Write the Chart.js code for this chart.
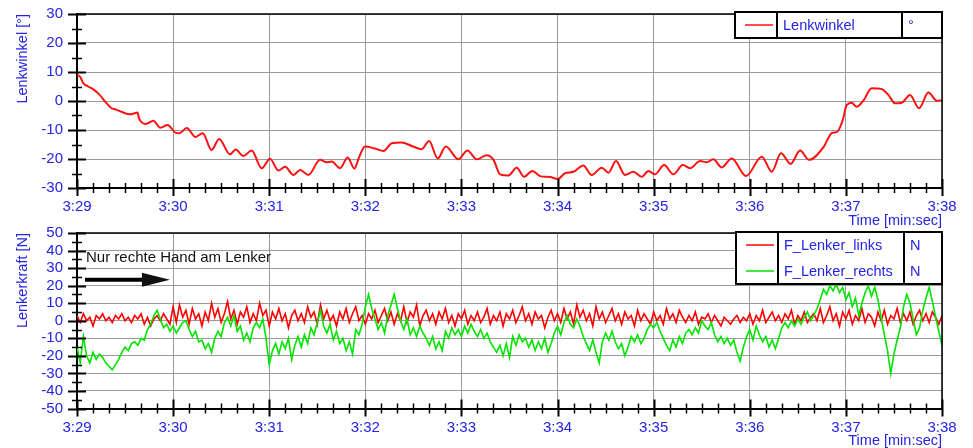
<!DOCTYPE html>
<html>
<head>
<meta charset="utf-8">
<script src="https://cdn.jsdelivr.net/npm/chart.js@4.4.1/dist/chart.umd.min.js"></script>
<style>
  html, body { margin: 0; padding: 0; background: #fff; }
  #wrap { position: relative; width: 973px; height: 448px; overflow: hidden; }
  #wrap canvas { position: absolute; left: 0; }
  #angleChart { top: 0; }
  #forceChart { top: 210px; }
</style>
</head>
<body>
<div id="wrap">
  <canvas id="angleChart" width="973" height="228"></canvas>
  <canvas id="forceChart" width="973" height="238"></canvas>
</div>
<script>
// time axis: seconds after 3:29
const minuteLabels = ['3:29','3:30','3:31','3:32','3:33','3:34','3:35','3:36','3:37','3:38'];

// Lenkwinkel [°]
const angleTime = [0,2,4,7,10,14,18,21.6,24,28,33,36,37.8,38.8,43,47.7,52,56.5,61.8,64,68.5,74,78.5,84,88.7,95.5,99.1,103.8,109,115.3,120.5,125.7,129.9,135.1,139.3,144.5,151.7,155.9,159,164.2,169,173.2,176,179.8,186.1,191.3,196.5,202.7,209,215.2,219.8,225.2,230.2,238.1,243.7,249.6,255.8,260,264.1,269.3,274.5,279.1,284.3,289.1,295.3,300.1,304.7,309.9,316.1,321.3,327.6,331.7,336.5,342.1,347.3,352.5,356.7,360.8,366.5,372.3,378.2,382.7,389,393.1,397.3,402.5,408.7,417.7,427.5,433.7,439.5,445.5,451.4,457,465.9,471.2,474.7,478,480.5,483.6,486.8,490.9,496.1,502.4,506.5,510.7,514.9,520,525.7,531.5,536.8,540];
const angleValue = [9.0,8.3,6.1,5.0,4.1,2.2,-0.5,-2.5,-2.9,-3.8,-4.6,-4.2,-4.0,-6.1,-7.9,-6.8,-9.2,-8.3,-11.0,-11.1,-9.3,-12.4,-11.1,-16.9,-13.1,-18.4,-16.7,-19.0,-17.1,-23.2,-19.9,-24.0,-22.7,-25.5,-23.8,-25.5,-20.3,-21.1,-20.9,-23.2,-19.5,-23.3,-19.5,-15.7,-16.4,-17.2,-14.6,-14.3,-15.5,-16.6,-13.8,-19.8,-15.7,-20.1,-17.1,-20.1,-18.7,-20.3,-25.3,-25.7,-23.0,-26.1,-24.1,-25.9,-26.2,-26.9,-24.9,-24.4,-22.2,-25.5,-23.0,-24.7,-20.7,-25.5,-24.4,-26.1,-24.1,-25.3,-22.1,-25.3,-22.1,-23.2,-20.7,-21.1,-20.1,-22.9,-19.8,-25.9,-19.2,-24.4,-18.0,-21.7,-17.1,-20.3,-16.0,-11.1,-10.6,-6.6,-1.4,-0.6,-2.0,0.1,4.4,4.1,2.1,-0.8,-0.6,2.1,-2.5,2.9,0.1,0.3];

// Lenkerkraft [N], one reading every 2 s from 3:29 on
const forceStep = 2;
const linksValue = [
  3,-1,4,0,2,-3,3,1,4,0,
  2,-1,3,1,4,0,2,-1,3,1,
  4,-2,2,-3,1,3,0,4,1,-2,
  8,-1,9,2,6,-2,7,1,4,-3,
  5,0,10,2,7,-1,4,11,1,6,
  -2,5,2,8,-1,4,0,10,3,6,
  -3,5,1,7,0,4,-4,3,6,0,
  4,-1,8,2,5,-2,9,1,6,0,
  3,-3,5,1,7,-1,4,8,0,3,
  -2,4,1,6,-1,3,7,0,5,-2,
  4,0,8,-1,5,2,9,-3,3,6,
  0,4,-2,5,1,7,-1,3,-3,4,
  1,6,-2,3,0,5,-1,2,7,-2,
  3,0,5,-3,4,1,6,-1,3,8,
  0,4,-2,5,1,3,-4,2,6,0,
  4,-1,7,1,5,-2,9,2,6,0,
  4,-3,8,1,5,-1,3,7,0,4,
  -2,5,1,3,-3,6,0,4,1,-2,
  5,0,3,-2,7,1,4,-1,6,2,
  -1,3,0,5,-2,2,1,4,-1,3,
  0,-3,2,0,-2,1,3,-1,2,0,
  4,-2,3,0,6,-1,2,5,0,3,
  -1,4,1,6,-2,3,0,5,-1,2,
  4,0,7,-1,3,8,0,4,-3,5,
  1,6,-2,3,0,7,-1,4,2,-3,
  5,0,6,-2,3,1,7,-1,4,0,
  5,-2,3,6,0,4,-1,5,2,-2,
  3];
const rechtsValue = [
  -15,-24,-9,-20,-24,-18,-22,-19,-21,-24,
  -26,-28,-25,-22,-18,-15,-17,-13,-12,-14,
  -10,-11,-5,-2,3,6,1,-4,-2,-6,
  -3,-7,-4,-1,0,-5,-9,-6,-12,-11,
  -16,-13,-18,-10,-6,-9,-1,2,-3,3,
  -6,-3,-11,-7,-12,-4,-1,-4,1,-10,
  -25,-17,-13,-19,-12,-16,-10,-22,-14,-9,
  -15,-8,-13,-4,-8,-1,6,-3,-7,-2,
  -11,-6,-13,-10,-17,-12,-19,-5,-8,-2,
  8,15,7,1,-5,-1,-7,3,9,15,
  7,0,-5,1,-8,-4,-9,-3,-7,-10,
  -14,-9,-16,-12,-17,-6,-10,-4,-8,-5,
  -9,-3,-7,-2,-6,-9,-5,-10,-7,-12,
  -15,-18,-14,-20,-13,-21,-9,-14,-8,-12,
  -10,-15,-11,-17,-12,-16,-10,-18,-13,-7,
  -3,-8,-1,3,-2,-4,1,-3,-9,-13,
  -17,-11,-18,-24,-12,-7,-11,-6,-12,-16,
  -13,-20,-15,-9,-12,-8,-13,-10,-5,-2,
  -4,-1,-6,-10,-14,-17,-11,-15,-9,-13,
  -7,-5,-8,-4,-7,0,-3,-5,-1,-8,
  -12,-9,-13,-10,-14,-11,-18,-23,-15,-9,
  -5,-11,-3,-8,-12,-9,-15,-11,-16,-10,
  -4,-1,-4,0,-3,1,-2,2,5,0,
  3,7,12,18,15,20,17,21,16,19,
  12,16,8,13,3,10,16,20,14,19,
  12,2,-8,-17,-30,-19,-11,-4,8,15,
  10,1,-8,-4,6,13,19,11,2,-6,
  -14];

const BLUE = '#2424e6';
const FONT = "'Liberation Sans', Arial, sans-serif";
const GRID = '#9a9a9a';

// axis frame, crossing tick marks, table legend and note
const decor = {
  id: 'decor',
  afterDraw(chart, args, o) {
    const { ctx, chartArea: a, scales: { x, y } } = chart;
    ctx.save();
    ctx.strokeStyle = '#000';
    ctx.lineWidth = 1.5;
    ctx.beginPath();
    ctx.moveTo(a.left, a.top); ctx.lineTo(a.right, a.top); ctx.lineTo(a.right, a.bottom);
    ctx.stroke();
    // x ticks every 10 s, big ones on the minute
    for (let t = x.min; t <= x.max; t += 10) {
      const px = Math.round(x.getPixelForValue(t)) + 0.5;
      const big = t % 60 === 0;
      ctx.lineWidth = big ? 2 : 1.5;
      ctx.beginPath();
      ctx.moveTo(px, a.bottom - (big ? 9 : 5));
      ctx.lineTo(px, a.bottom + (big ? 8 : 5));
      ctx.stroke();
    }
    for (let v = y.min; v <= y.max; v += o.minorY) {
      const py = Math.round(y.getPixelForValue(v)) + 0.5;
      const big = v % (o.minorY * 2) === 0;
      ctx.lineWidth = big ? 2 : 1.5;
      ctx.beginPath();
      ctx.moveTo(a.left - (big ? 9 : 5), py);
      ctx.lineTo(a.left + (big ? 9 : 5), py);
      ctx.stroke();
    }
    // note with arrow
    if (o.note) {
      const n = o.note;
      ctx.fillStyle = '#111';
      ctx.font = '15px ' + FONT;
      ctx.textAlign = 'left';
      ctx.textBaseline = 'middle';
      ctx.fillText(n.text, x.getPixelForValue(n.textX), y.getPixelForValue(n.textY));
      const ay = y.getPixelForValue(n.arrowY);
      const x0 = x.getPixelForValue(n.from), x1 = x.getPixelForValue(n.to);
      ctx.lineWidth = 4;
      ctx.beginPath(); ctx.moveTo(x0, ay); ctx.lineTo(x1 - 26, ay); ctx.stroke();
      ctx.beginPath();
      ctx.moveTo(x1, ay); ctx.lineTo(x1 - 28, ay - 7); ctx.lineTo(x1 - 28, ay + 7); ctx.closePath();
      ctx.fill();
    }
    // legend table
    const L = o.legend;
    const rowH = 26, w = L.cols[0] + L.cols[1] + L.cols[2];
    const lx = a.right - w, ly = a.top + L.dy, h = rowH * L.names.length;
    ctx.fillStyle = '#fff';
    ctx.fillRect(lx, ly, w, h);
    ctx.strokeStyle = '#000';
    ctx.lineWidth = 2;
    ctx.strokeRect(lx, ly, w, h);
    ctx.beginPath();
    ctx.moveTo(lx + L.cols[0], ly); ctx.lineTo(lx + L.cols[0], ly + h);
    ctx.moveTo(lx + L.cols[0] + L.cols[1], ly); ctx.lineTo(lx + L.cols[0] + L.cols[1], ly + h);
    ctx.stroke();
    ctx.font = '14.5px ' + FONT;
    ctx.textBaseline = 'middle';
    ctx.textAlign = 'left';
    L.names.forEach((name, i) => {
      const cy = ly + rowH * i + rowH / 2;
      ctx.strokeStyle = L.colors[i];
      ctx.lineWidth = 1.5;
      ctx.beginPath(); ctx.moveTo(lx + 10, cy); ctx.lineTo(lx + 38, cy); ctx.stroke();
      ctx.fillStyle = BLUE;
      ctx.fillText(name, lx + L.cols[0] + 6, cy + 0.5);
      ctx.fillText(L.units[i], lx + L.cols[0] + L.cols[1] + 6, cy + 0.5);
    });
    ctx.restore();
  }
};

function xScale(height) {
  return {
    type: 'linear', min: 0, max: 540,
    afterFit: s => { s.height = height; s.paddingLeft = 0; s.paddingRight = 0; },
    ticks: {
      stepSize: 60, autoSkip: false, maxRotation: 0, padding: 10,
      color: BLUE, font: { family: FONT, size: 15 },
      callback: v => minuteLabels[v / 60]
    },
    grid: { color: GRID, lineWidth: 1, drawTicks: false },
    border: { color: '#000', width: 2 },
    title: {
      display: true, text: 'Time [min:sec]', align: 'end', color: BLUE,
      font: { family: FONT, size: 14.5, lineHeight: 1 }, padding: 0
    }
  };
}

function yScale(min, max, title) {
  return {
    min: min, max: max,
    afterFit: s => { s.width = 77; s.paddingTop = 0; s.paddingBottom = 0; },
    ticks: { stepSize: 10, autoSkip: false, padding: 14, color: BLUE, font: { family: FONT, size: 15 } },
    grid: { color: GRID, lineWidth: 1, drawTicks: false },
    border: { color: '#000', width: 2 },
    title: {
      display: true, text: title, align: 'end', color: BLUE,
      font: { family: FONT, size: 14.5 }, padding: { top: 14, bottom: 0 }
    }
  };
}

const common = {
  responsive: false,
  animation: false,
  events: [],
  plugins: { legend: { display: false }, tooltip: { enabled: false } },
  elements: { point: { radius: 0 } }
};

new Chart(document.getElementById('angleChart'), {
  type: 'line',
  data: {
    datasets: [{
      data: angleTime.map((t, i) => ({ x: t, y: angleValue[i] })),
      borderColor: '#ff1010', borderWidth: 2, cubicInterpolationMode: 'monotone'
    }]
  },
  options: Object.assign({}, common, {
    layout: { padding: { top: 14, right: 31, left: 0, bottom: 0 } },
    scales: { x: xScale(40), y: yScale(-30, 30, 'Lenkwinkel [°]') },
    plugins: Object.assign({}, common.plugins, {
      decor: { minorY: 5, legend: { dy: -2, cols: [42, 125, 40], names: ['Lenkwinkel'], units: ['°'], colors: ['#ff1010'] } }
    })
  }),
  plugins: [decor]
});

new Chart(document.getElementById('forceChart'), {
  type: 'line',
  data: {
    datasets: [
      { data: linksValue.map((v, i) => ({ x: i * forceStep, y: v })), borderColor: '#ff0000', borderWidth: 1.6, order: 2 },
      { data: rechtsValue.map((v, i) => ({ x: i * forceStep, y: v })), borderColor: '#00e400', borderWidth: 1.6, order: 1 }
    ]
  },
  options: Object.assign({}, common, {
    layout: { padding: { top: 23, right: 31, left: 0, bottom: 0 } },
    scales: { x: xScale(39.5), y: yScale(-50, 50, 'Lenkerkraft [N]') },
    plugins: Object.assign({}, common.plugins, {
      decor: {
        minorY: 5,
        legend: { dy: -1, cols: [42, 126, 38], names: ['F_Lenker_links', 'F_Lenker_rechts'], units: ['N', 'N'], colors: ['#ff0000', '#00e400'] },
        note: { text: 'Nur rechte Hand am Lenker', textX: 5.6, textY: 36, arrowY: 23.4, from: 5, to: 58 }
      }
    })
  }),
  plugins: [decor]
});
</script>
</body>
</html>
